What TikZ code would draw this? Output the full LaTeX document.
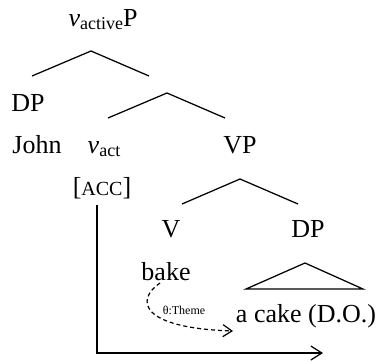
\documentclass[tikz,border=0pt]{standalone}
\usepackage{fontspec}
\setmainfont{Liberation Serif}
\usetikzlibrary{arrows.meta, positioning}
\newcommand{\lowsub}[1]{\raisebox{-3pt}{\fontsize{18}{18}\selectfont #1}}

\begin{document}
\begin{tikzpicture}[x=1pt, y=-1pt,
    lbl/.style={inner sep=0pt, anchor=base, font=\fontsize{26}{30}\selectfont},
    branch/.style={line width=1.25pt},
    case/.style={line width=1.25pt, -{Straight Barb[length=11pt, width=14pt]}},
    theta/.style={line width=1.2pt, dash pattern=on 4pt off 3pt, -{Straight Barb[length=9pt, width=12pt]}}]
    \useasboundingbox (0,0) rectangle (379,361);

    % Tree labels
    \node[lbl] (vp) at (103,27) {\textit{v}\lowsub{active}P};
    \node[lbl] (dp) at (28,111) {DP};
    \node[lbl] (john) at (37,153) {John};
    \node[lbl] (vact) at (104,153) {\textit{v}\lowsub{act}};
    \node[lbl] (vphr) at (240,153) {VP};
    \node[lbl] (acc) at (102,195) {[{\fontsize{20}{20}\selectfont ACC}]};
    \node[lbl] (verb) at (171,237) {V};
    \node[lbl] (obj) at (308,237) {DP};
    \node[lbl] (bake) at (166,280) {bake};
    \node[lbl] (cake) at (306,322) {a cake (D.O.)};
    \node[lbl, font=\fontsize{12}{12}\selectfont] (theme) at (184,314) {θ:Theme};

    % Branch points
    \coordinate (top) at (91,51);
    \coordinate (topl) at (32,76);
    \coordinate (topr) at (149,76);
    \coordinate (bar) at (167,93);
    \coordinate (barl) at (108,118);
    \coordinate (barr) at (225,118);
    \coordinate (vpt) at (240,179);
    \coordinate (vpl) at (182,204);
    \coordinate (vpr) at (298,204);

    \draw[branch] (topl) -- (top) -- (topr);
    \draw[branch] (barl) -- (bar) -- (barr);
    \draw[branch] (vpl) -- (vpt) -- (vpr);

    % Triangle over the object
    \draw[branch] (305,263) -- (246,289) -- (363,289) -- cycle;

    % Theta role and case arrows
    \coordinate (thetaend) at (233,331);
    \coordinate (caseend) at (323,353);
    \draw[theta] ([xshift=-6pt,yshift=-3pt]bake.base) .. controls (135,300) and (140,328) .. (thetaend);
    \draw[case] ([xshift=-5pt,yshift=-10pt]acc.base) |- (caseend);
\end{tikzpicture}
\end{document}
